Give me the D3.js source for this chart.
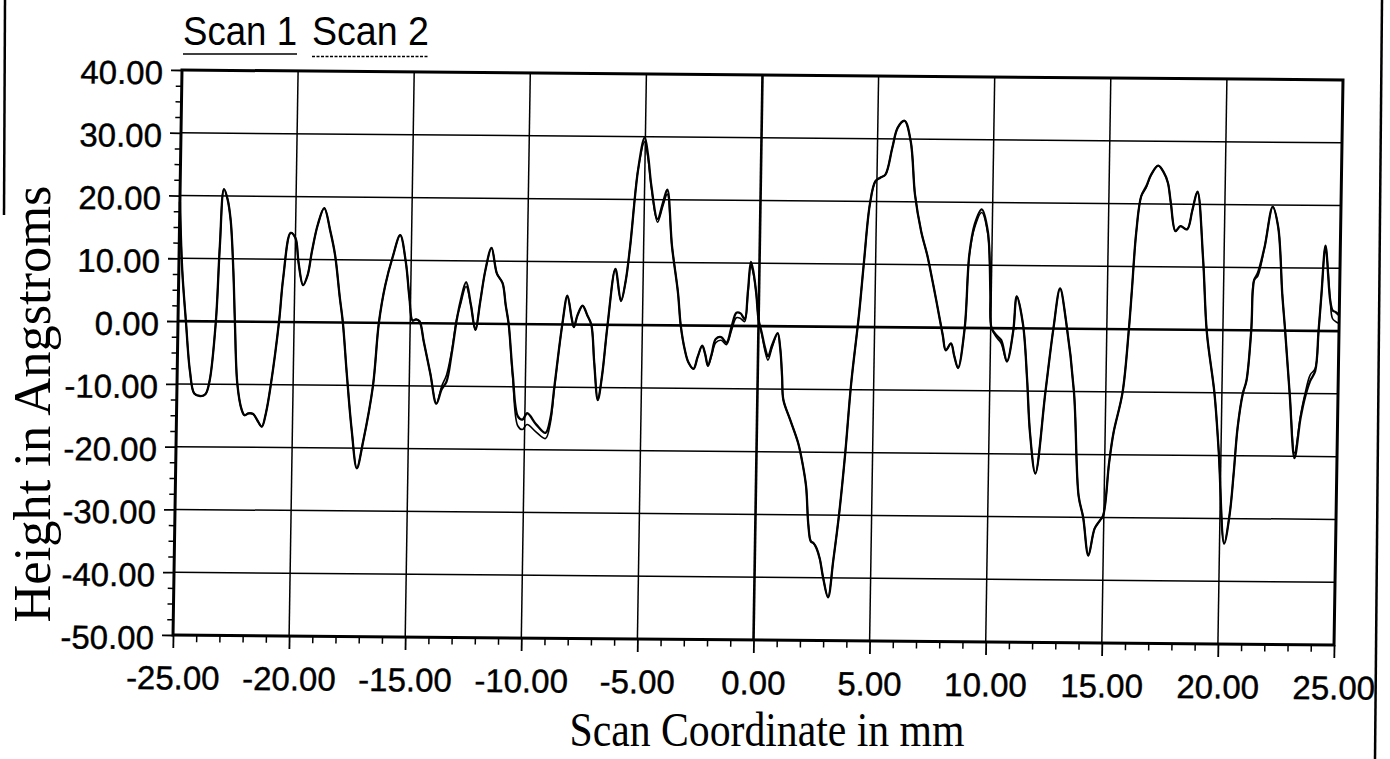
<!DOCTYPE html>
<html>
<head>
<meta charset="utf-8">
<script src="https://cdn.jsdelivr.net/npm/d3@7"></script>
<style>
  html, body { margin: 0; padding: 0; background: #fff; }
  svg { display: block; }
  .tick-label { font-family: "Liberation Sans", Arial, sans-serif; font-size: 33px; fill: #000; stroke: #000; stroke-width: 0.4px; }
  .serif-title { font-family: "Liberation Serif", "Times New Roman", serif; fill: #000; }
</style>
</head>
<body>
<svg id="chart" width="1390" height="759"></svg>
<script>
// Scan coordinate (mm) and surface height (Angstroms) for the two profile scans
const scanX = [
  -25.00,-24.85,-24.66,-24.45,-24.25,-24.00,-23.77,-23.60,-23.37,-23.25,
  -23.11,-22.95,-22.80,-22.65,-22.55,-22.40,-22.20,-22.07,-21.90,-21.70,
  -21.50,-21.32,-21.15,-20.96,-20.65,-20.50,-20.21,-20.00,-19.85,-19.64,
  -19.45,-19.28,-19.05,-18.78,-18.50,-18.28,-18.05,-17.90,-17.70,-17.45,
  -17.20,-16.95,-16.56,-16.35,-16.10,-15.80,-15.49,-15.23,-15.05,-14.90,
  -14.75,-14.60,-14.40,-14.10,-13.82,-13.60,-13.40,-13.20,-13.00,-12.85,
  -12.62,-12.40,-12.19,-12.00,-11.80,-11.55,-11.30,-11.05,-10.90,-10.76,
  -10.55,-10.30,-10.10,-9.90,-9.50,-9.10,-8.90,-8.75,-8.45,-8.25,
  -8.05,-7.95,-7.80,-7.59,-7.37,-7.20,-7.05,-6.87,-6.70,-6.50,
  -6.20,-5.94,-5.75,-5.58,-5.29,-5.03,-4.87,-4.71,-4.42,-4.20,
  -4.02,-3.78,-3.49,-3.35,-3.15,-2.99,-2.77,-2.60,-2.41,-2.28,
  -2.15,-2.00,-1.83,-1.60,-1.37,-1.15,-0.96,-0.78,-0.60,-0.48,
  -0.37,-0.25,-0.12,0.00,0.14,0.30,0.43,0.60,0.83,0.95,
  1.05,1.12,1.43,1.79,2.00,2.16,2.28,2.40,2.52,2.65,
  2.80,2.95,3.18,3.38,3.60,3.82,4.03,4.32,4.50,4.71,
  4.93,5.14,5.36,5.64,5.86,6.15,6.43,6.65,6.94,7.22,
  7.44,7.65,7.94,8.08,8.30,8.45,8.62,8.88,9.03,9.24,
  9.53,9.81,9.96,10.03,10.24,10.46,10.72,10.97,11.10,11.39,
  11.60,11.76,12.02,12.40,12.70,12.96,13.24,13.63,13.90,14.11,
  14.36,14.61,14.83,14.97,15.19,15.36,15.72,15.95,16.05,16.20,
  16.39,16.60,16.81,17.10,17.35,17.53,17.67,17.89,18.10,18.39,
  18.60,18.81,19.10,19.31,19.68,19.90,20.20,20.42,20.56,20.70,
  20.90,21.05,21.22,21.31,21.46,21.74,22.06,22.31,22.53,22.68,
  22.92,23.17,23.40,23.58,23.79,24.00,24.12,24.22,24.36,24.60,
  24.71,24.85,25.00
];

const scan1 = [
  19.0,8.0,0.0,-8.0,-11.5,-11.9,-11.6,-9.5,0.0,12.0,
  21.1,19.5,16.1,8.0,0.0,-10.0,-14.0,-14.9,-14.6,-14.7,
  -15.8,-16.7,-14.5,-10.0,0.0,7.0,14.2,13.4,9.5,5.9,
  7.5,11.3,15.5,18.2,14.5,10.7,4.0,0.0,-8.0,-17.0,
  -23.2,-19.0,-10.0,0.0,6.0,10.5,14.0,9.7,4.0,0.4,
  0.6,0.3,-3.0,-8.0,-12.8,-10.5,-9.3,-5.0,0.5,3.5,
  6.6,3.0,-1.0,3.5,8.5,12.1,8.0,6.5,3.0,0.0,
  -8.0,-14.7,-15.2,-14.2,-16.0,-17.3,-15.0,-10.0,0.0,4.6,
  1.0,-0.4,1.5,3.0,1.4,0.0,-6.0,-12.0,-8.0,0.0,
  8.9,3.8,7.0,12.6,24.8,29.9,27.0,22.2,16.9,19.5,
  21.6,12.6,5.2,0.0,-4.0,-5.9,-6.9,-5.0,-3.2,-4.5,
  -6.4,-4.5,-2.1,-1.8,-2.7,0.0,2.1,2.0,1.1,5.5,
  10.2,8.5,5.2,1.0,-1.0,-3.5,-4.8,-3.0,-1.1,-3.5,
  -8.0,-11.7,-14.9,-18.6,-22.0,-25.5,-31.5,-34.2,-34.5,-35.3,
  -37.0,-39.9,-43.1,-37.2,-29.8,-20.2,-9.0,2.0,10.5,19.5,
  23.2,23.8,24.3,28.6,31.8,32.9,29.6,21.1,15.3,11.5,
  7.8,4.1,-1.2,-3.6,-2.5,-4.5,-6.4,0.0,11.7,16.5,
  18.9,15.4,5.9,0.1,-1.1,-1.9,-5.3,-0.5,5.1,0.6,
  -8.0,-16.5,-23.1,-10.1,0.0,6.4,1.2,-10.1,-26.6,-30.0,
  -36.1,-31.8,-30.5,-29.7,-21.3,-16.5,-10.1,0.0,6.0,15.4,
  21.2,22.8,24.7,26.1,25.0,23.4,20.2,15.7,16.5,16.0,
  19.0,22.0,11.2,-0.4,-10.1,-19.2,-34.0,-29.2,-22.9,-15.5,
  -10.1,-8.0,0.0,8.0,9.1,13.3,19.7,16.5,5.9,0.0,
  -10.1,-20.3,-14.0,-10.6,-8.0,-6.4,0.0,5.9,13.6,4.9,
  3.3,3.0,2.5
];

const scan2 = [
  19.0,8.0,0.0,-8.0,-11.5,-11.9,-11.6,-9.5,0.0,12.0,
  21.1,19.5,16.1,8.0,0.0,-10.0,-14.0,-14.9,-14.6,-14.7,
  -15.8,-16.7,-14.5,-10.0,0.0,7.0,14.2,13.4,9.5,5.9,
  7.5,11.3,15.5,18.2,14.5,10.7,4.0,0.0,-8.0,-17.0,
  -23.2,-19.0,-10.0,0.0,6.0,10.5,14.0,9.7,4.0,0.4,
  0.6,0.3,-3.0,-8.0,-12.8,-10.0,-8.2,-4.5,0.8,3.0,
  5.9,3.0,-1.0,3.5,8.5,12.1,8.0,6.5,3.0,0.0,
  -8.5,-16.2,-16.8,-16.0,-17.2,-18.2,-15.8,-10.3,0.0,4.6,
  1.0,-0.4,1.5,3.0,1.4,0.0,-6.0,-12.0,-8.0,0.0,
  8.9,3.8,7.0,12.6,24.8,29.2,26.5,22.0,16.4,19.0,
  20.9,12.6,5.2,0.0,-4.0,-5.9,-6.9,-5.0,-3.2,-4.5,
  -6.4,-4.8,-2.7,-2.3,-3.0,-0.6,1.3,1.2,0.7,5.0,
  9.6,8.2,5.2,1.0,-1.2,-4.0,-5.4,-3.4,-1.1,-3.5,
  -8.0,-11.7,-14.9,-18.6,-22.0,-25.5,-31.5,-34.2,-34.5,-35.3,
  -37.0,-39.9,-43.1,-37.2,-29.8,-20.2,-9.0,2.0,10.5,19.5,
  23.2,23.8,24.3,28.6,31.8,32.9,29.6,21.1,15.3,11.5,
  7.8,4.1,-1.2,-3.6,-2.5,-4.5,-6.4,0.0,11.5,16.0,
  18.4,15.0,5.9,0.1,-1.4,-2.4,-5.3,-0.5,5.1,0.6,
  -8.0,-16.5,-23.1,-10.1,0.0,6.4,1.2,-10.1,-26.6,-30.0,
  -36.1,-31.8,-30.5,-29.7,-21.3,-16.5,-10.1,0.0,6.0,15.4,
  21.2,22.6,24.7,26.1,25.0,23.4,20.2,15.7,16.5,16.0,
  19.0,22.0,11.2,-0.4,-10.1,-19.2,-34.0,-29.2,-22.9,-15.5,
  -10.1,-8.0,0.0,8.0,8.6,13.3,19.7,16.5,5.9,0.0,
  -10.1,-19.5,-13.5,-10.0,-7.0,-6.0,0.0,5.9,13.6,4.9,
  2.0,1.5,1.2
];

// Axis ticks and their printed labels
const xTickValues = [-25, -20, -15, -10, -5, 0, 5, 10, 15, 20, 25];
const xTickLabels = ["-25.00","-20.00","-15.00","-10.00","-5.00","0.00","5.00","10.00","15.00","20.00","25.00"];
const yTickValues = [40, 30, 20, 10, 0, -10, -20, -30, -40, -50];
const yTickLabels = ["40.00","30.00","20.00","10.00","0.00","-10.00","-20.00","-30.00","-40.00","-50.00"];

const seriesNames = ["Scan 1", "Scan 2"];
const xTitle = "Scan Coordinate in mm";
const yTitle = "Height in Angstroms";

const W = 1161, H = 565;
const svg = d3.select("#chart");

// Whole plot sits on a slightly tilted sheet
const g = svg.append("g")
  .attr("transform", "matrix(1,0.0086,-0.0159,1,182,70)");

const x = d3.scaleLinear().domain([-25, 25]).range([0, W]);
const y = d3.scaleLinear().domain([-50, 40]).range([H, 0]);

// Grid
g.append("g").selectAll("line").data(xTickValues.filter(v => v > -25 && v < 25))
  .join("line")
  .attr("x1", d => x(d)).attr("x2", d => x(d))
  .attr("y1", 0).attr("y2", H)
  .attr("stroke", "#000")
  .attr("stroke-width", d => d === 0 ? 2.6 : 1.5);

g.append("g").selectAll("line").data(yTickValues.filter(v => v > -50 && v < 40))
  .join("line")
  .attr("x1", 0).attr("x2", W)
  .attr("y1", d => y(d)).attr("y2", d => y(d))
  .attr("stroke", "#000")
  .attr("stroke-width", d => d === 0 ? 2.6 : 1.5);

// Minor ticks
const yMinor = d3.range(-50, 40.01, 2.5).filter(v => !yTickValues.includes(v));
const xMinor = d3.range(-25, 25.01, 1).filter(v => !xTickValues.includes(v));

g.append("g").call(d3.axisLeft(y).tickValues(yMinor).tickSize(6).tickFormat(""))
  .call(a => a.select(".domain").remove())
  .selectAll("line").attr("stroke-width", 1.5);
g.append("g").attr("transform", `translate(0,${H})`)
  .call(d3.axisBottom(x).tickValues(xMinor).tickSize(7).tickFormat(""))
  .call(a => a.select(".domain").remove())
  .selectAll("line").attr("stroke-width", 1.5);

// Major axes with labels
const yAxis = g.append("g")
  .call(d3.axisLeft(y).tickValues(yTickValues).tickSize(11).tickPadding(8)
    .tickFormat((d, i) => yTickLabels[i]));
yAxis.select(".domain").remove();
yAxis.selectAll("line").attr("stroke-width", 1.8);
yAxis.selectAll("text").attr("class", "tick-label").attr("dy", "0.42em");

const xAxis = g.append("g").attr("transform", `translate(0,${H})`)
  .call(d3.axisBottom(x).tickValues(xTickValues).tickSize(13).tickPadding(10)
    .tickFormat((d, i) => xTickLabels[i]));
xAxis.select(".domain").remove();
xAxis.selectAll("line").attr("stroke-width", 1.8);
xAxis.selectAll("text").attr("class", "tick-label").attr("dy", "0.95em");

// Plot frame
g.append("rect").attr("x", 0).attr("y", 0).attr("width", W).attr("height", H)
  .attr("fill", "none").attr("stroke", "#000").attr("stroke-width", 3);

// Profile lines
const line = (vals) => d3.line()
  .x((d, i) => x(scanX[i]))
  .y(d => y(d))
  .curve(d3.curveCatmullRom.alpha(0.5))(vals);

g.append("path").attr("d", line(scan2))
  .attr("fill", "none").attr("stroke", "#000").attr("stroke-width", 1.6);
g.append("path").attr("d", line(scan1))
  .attr("fill", "none").attr("stroke", "#000").attr("stroke-width", 2.3);

// Legend
const legend = svg.append("g").attr("class", "legend");
const legendItems = [
  { name: seriesNames[0], x: 183, w: 114, dash: null, uy: 54 },
  { name: seriesNames[1], x: 312, w: 117, dash: "3,1.5", uy: 56.5 }
];
legendItems.forEach(it => {
  legend.append("text")
    .attr("x", it.x).attr("y", 45)
    .attr("textLength", it.w).attr("lengthAdjust", "spacingAndGlyphs")
    .style("font-family", "'Liberation Sans', Arial, sans-serif")
    .style("font-size", "41px")
    .text(it.name);
  legend.append("line")
    .attr("x1", it.x).attr("x2", it.x + it.w)
    .attr("y1", it.uy).attr("y2", it.uy)
    .attr("stroke", "#000").attr("stroke-width", 1.6)
    .attr("stroke-dasharray", it.dash);
});

// Axis titles
svg.append("text").attr("class", "serif-title")
  .attr("x", 767).attr("y", 746)
  .attr("text-anchor", "middle")
  .attr("textLength", 395).attr("lengthAdjust", "spacingAndGlyphs")
  .style("font-size", "49px")
  .text(xTitle);

svg.append("text").attr("class", "serif-title")
  .attr("transform", "translate(50,404) rotate(-90)")
  .attr("text-anchor", "middle")
  .attr("textLength", 437).attr("lengthAdjust", "spacingAndGlyphs")
  .style("font-size", "52px")
  .text(yTitle);

// Sheet edges
svg.append("line").attr("x1", 1382).attr("y1", 0).attr("x2", 1375).attr("y2", 759)
  .attr("stroke", "#000").attr("stroke-width", 2.5);
svg.append("line").attr("x1", 5).attr("y1", 0).attr("x2", 4).attr("y2", 215)
  .attr("stroke", "#000").attr("stroke-width", 2.5);
</script>
</body>
</html>
